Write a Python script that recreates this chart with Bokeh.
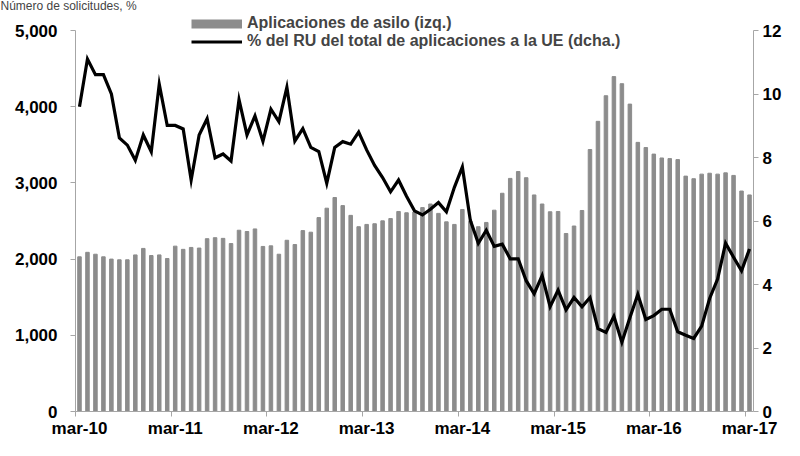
from bokeh.plotting import figure
from bokeh.models import (Range1d, LinearAxis, FixedTicker, Legend, LegendItem,
                          NumeralTickFormatter, ColumnDataSource)
from bokeh.embed import file_html
from bokeh.resources import INLINE

# ---- data (monthly, mar-10 .. mar-17) ----
tick_labels = ["mar-10", "mar-11", "mar-12", "mar-13", "mar-14", "mar-15", "mar-16", "mar-17"]

applications = [
    2030, 2089, 2064, 2030, 2000, 1991, 1991, 2055, 2140, 2047, 2055, 2008,
    2170, 2128, 2153, 2145, 2268, 2281, 2272, 2204, 2379, 2362, 2396, 2166,
    2174, 2064, 2247, 2191, 2374, 2353, 2545, 2668, 2808, 2702, 2574, 2425,
    2455, 2464, 2502, 2532, 2625, 2608, 2617, 2676, 2723, 2600, 2489, 2455,
    2651, 2498, 2425, 2481, 2642, 2864, 3059, 3149, 3068, 2842, 2723, 2621,
    2625, 2336, 2434, 2638, 3438, 3808, 4144, 4395, 4302, 4034, 3532, 3464,
    3378, 3327, 3319, 3306, 3089, 3055, 3115, 3127, 3115, 3132, 3098, 2893,
    2842,
]

uk_share = [
    9.60, 11.10, 10.61, 10.61, 10.00, 8.62, 8.39, 7.91, 8.71, 8.18, 10.31, 9.01,
    9.01, 8.90, 7.29, 8.71, 9.22, 7.99, 8.11, 7.89, 9.82, 8.71, 9.31, 8.51,
    9.52, 9.13, 10.21, 8.52, 8.91, 8.32, 8.19, 7.19, 8.32, 8.50, 8.42, 8.80,
    8.24, 7.75, 7.37, 6.92, 7.29, 6.78, 6.32, 6.19, 6.37, 6.58, 6.29, 7.06,
    7.70, 6.02, 5.30, 5.71, 5.20, 5.27, 4.81, 4.81, 4.12, 3.71, 4.28, 3.30,
    3.82, 3.20, 3.59, 3.30, 3.59, 2.61, 2.49, 3.00, 2.18, 2.95, 3.69, 2.90,
    3.02, 3.22, 3.22, 2.51, 2.40, 2.30, 2.69, 3.56, 4.17, 5.30, 4.86, 4.43,
    5.12,
]

left_max, right_max = 5000, 12

n = len(applications)
idx = list(range(n))
src = ColumnDataSource(dict(x=idx, apps=applications, share=uk_share))

GRAY_BAR = "#8c8c8c"
AXIS_GRAY = "#a6a6a6"
FONT = "Liberation Sans"

W, H = 784, 440
BORDER_LEFT, BORDER_RIGHT, BORDER_BOTTOM = 75, 28, 29
FRAME_H = H - BORDER_BOTTOM          # frame spans the whole top of the canvas
TOP_GAP = 30                          # pixels above the 5,000 / 12 level
scale_ext = FRAME_H / (FRAME_H - TOP_GAP)

p = figure(width=W, height=H, output_backend="svg", toolbar_location=None,
           x_range=Range1d(-0.5, n - 0.5),
           y_range=Range1d(0, left_max * scale_ext),
           min_border_left=BORDER_LEFT, min_border_right=BORDER_RIGHT, min_border_top=0,
           min_border_bottom=BORDER_BOTTOM)
p.extra_y_ranges = {"pct": Range1d(0, right_max * scale_ext)}
p.outline_line_color = None
p.xgrid.visible = False
p.ygrid.visible = False
p.background_fill_color = "white"

# title overlapping the top margin (negative standoff keeps the panel at zero height)
p.title.text = "Número de solicitudes, %"
p.title.text_font = FONT
p.title.text_font_size = "12px"
p.title.text_font_style = "normal"
p.title.align = "left"
p.title.vertical_align = "bottom"
p.title.offset = -BORDER_LEFT
p.title.standoff = -24

bars = p.vbar(x="x", top="apps", width=0.44, source=src, color=GRAY_BAR)
line = p.line(x="x", y="share", source=src, y_range_name="pct",
              line_color="black", line_width=3.2, line_join="miter")
# legend-only swatch for the bar series (no visible data)
swatch = p.line(x=[float("nan")], y=[float("nan")], line_color=GRAY_BAR, line_width=9)

# left axis
ya = p.yaxis[0]
ya.ticker = FixedTicker(ticks=[0, 1000, 2000, 3000, 4000, 5000])
ya.formatter = NumeralTickFormatter(format="0,0")
ya.bounds = (0, left_max)

# right axis
yr = LinearAxis(y_range_name="pct", ticker=FixedTicker(ticks=[0, 2, 4, 6, 8, 10, 12]),
                bounds=(0, right_max))
p.add_layout(yr, "right")

for ax in (ya, yr):
    ax.axis_line_color = AXIS_GRAY
    ax.major_tick_line_color = AXIS_GRAY
    ax.major_tick_out = 5
    ax.major_tick_in = 0
    ax.minor_tick_line_color = None
    ax.major_label_text_font = FONT
    ax.major_label_text_font_style = "bold"
    ax.major_label_text_font_size = "17px"
    ax.major_label_text_color = "black"
ya.major_label_standoff = 13
yr.major_label_standoff = 4

# x axis: labels on first month of each year, ticks at category boundaries
xa = p.xaxis[0]
label_pos = list(range(0, n, 12))
xa.ticker = FixedTicker(ticks=label_pos, minor_ticks=[v - 0.5 for v in label_pos])
xa.major_label_overrides = {pos: lab for pos, lab in zip(label_pos, tick_labels)}
xa.axis_line_color = AXIS_GRAY
xa.major_tick_line_color = None
xa.major_tick_out = 0
xa.major_tick_in = 0
xa.minor_tick_line_color = AXIS_GRAY
xa.minor_tick_out = 5
xa.minor_tick_in = 0
xa.major_label_standoff = 2
xa.major_label_text_font = FONT
xa.major_label_text_font_style = "bold"
xa.major_label_text_font_size = "17px"
xa.major_label_text_color = "black"

legend = Legend(
    items=[LegendItem(label="Aplicaciones de asilo (izq.)", renderers=[swatch]),
           LegendItem(label="% del RU del total de aplicaciones a la UE (dcha.)", renderers=[line])],
    location=(116, FRAME_H - 50),
    orientation="vertical",
    border_line_color=None, background_fill_alpha=0,
    padding=0, margin=0, spacing=0,
    glyph_width=51, glyph_height=17, label_height=17, label_standoff=5,
    label_text_font=FONT, label_text_font_style="bold", label_text_font_size="16px",
)
p.add_layout(legend)

open("out.html", "w").write(file_html(p, INLINE))
